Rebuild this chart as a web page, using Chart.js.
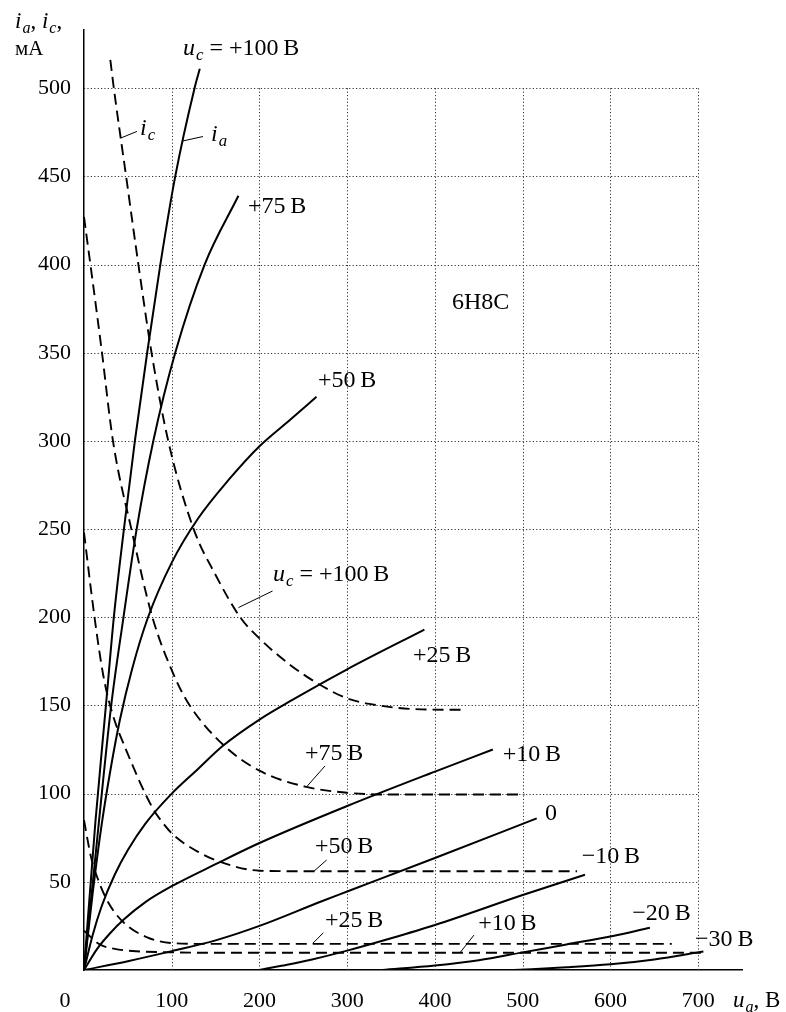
<!DOCTYPE html>
<html>
<head>
<meta charset="utf-8">
<script src="https://cdn.jsdelivr.net/npm/chart.js@4.4.0/dist/chart.umd.min.js"></script>
<style>
  body { margin: 0; background: #fff; }
  canvas { display: block; }
</style>
</head>
<body>
<canvas id="chart" width="786" height="1012"></canvas>
<script>
// axis ticks
var xTicks = [0, 100, 200, 300, 400, 500, 600, 700];
var yTicks = [50, 100, 150, 200, 250, 300, 350, 400, 450, 500];

// anode current i_a (mA) vs u_a (V), one array per grid voltage u_c
var iaP100 = [[0,0],[13,84],[25,150],[34,200],[45.5,250],[58,300],[72,350],[87,400],[104,450],[126,500],[132,511]];
var iaP75  = [[0,0],[17,84],[31,150],[45,200],[60,250],[79,300],[104,350],[137.5,400],[176,439]];
var iaP50  = [[0,0],[10,44],[20,82],[30,113],[41,142],[55,171],[73,200],[100,231],[130,256],[165,278],[200,297],[235,312],[265,325]];
var iaP25  = [[0,0],[10,20],[20,36],[35,54],[50,68],[70,83],[100,100],[130,114],[158,127],[200,142],[237,153],[300,170.5],[388,193]];
var iaP10  = [[0,0],[15,12],[30,21],[45,28.5],[70,38.5],[100,47.5],[150,60],[200,72],[300,93],[400,112.5],[466,125]];
var ia0    = [[0,0],[50,5],[100,10.7],[150,16.8],[200,25],[271,39],[300,44.5],[400,63.5],[516,86]];
var iaM10  = [[200,0],[225,2.4],[260,6],[300,11],[350,18],[400,25.5],[500,42.5],[571,54]];
var iaM20  = [[340,0],[400,2.5],[450,5.5],[500,10],[550,14.5],[600,19],[645,24]];
var iaM30  = [[490,0],[550,1.5],[600,3.2],[650,6],[706,10.5]];

// grid current i_c (mA) vs u_a (V)
var icP100 = [[30,516],[34,500],[48,450],[62,400],[77,350],[96,300],[125,250],[150,224],[178,200],[200,188],[235,173],[268,162],[300,154],[336,150],[374,148],[435,147.5]];
var icP75  = [[0,427],[10,390],[20,352],[33,300],[54,250],[78,200],[100,170],[118,152],[158,128],[200,113],[252,104],[300,100.5],[350,99.5],[502,99.5]];
var icP50  = [[0,248],[12,200],[22,167],[32,146],[47,126],[78,92],[89,84],[101,77],[130,67],[157,61],[200,56.3],[250,56],[562,56]];
var icP25  = [[0,85],[8,64],[17,50],[28,38],[45,27],[72,18.5],[100,15.3],[140,14.8],[670,14.8]];
var icP10  = [[0,22.3],[18,14.5],[35,12],[55,10.8],[100,10],[150,9.8],[706,9.8]];

// curve labels: anchor (left, baseline) in data units
var curveLabels = [
  { x: 112.8, y: 518.8, parts: [['u','i'],['c','s'],[' = +100\u2009В','r']] },
  { x: 186.9, y: 429.2, parts: [['+75\u2009В','r']] },
  { x: 63.8,  y: 473.5, parts: [['i','i'],['c','s']] },
  { x: 144.8, y: 470.1, parts: [['i','i'],['a','s']] },
  { x: 419.5, y: 374.8, parts: [['6Н8С','r']] },
  { x: 266.7, y: 330.6, parts: [['+50\u2009В','r']] },
  { x: 215.4, y: 220.6, parts: [['u','i'],['c','s'],[' = +100\u2009В','r']] },
  { x: 375,   y: 174.8, parts: [['+25\u2009В','r']] },
  { x: 251.9, y: 119.1, parts: [['+75\u2009В','r']] },
  { x: 477.3, y: 118.5, parts: [['+10\u2009В','r']] },
  { x: 525.5, y: 85.1,  parts: [['0','r']] },
  { x: 263.3, y: 66.2,  parts: [['+50\u2009В','r']] },
  { x: 567.3, y: 60.5,  parts: [['\u221210\u2009В','r']] },
  { x: 274.7, y: 24.6,  parts: [['+25\u2009В','r']] },
  { x: 449.4, y: 22.7,  parts: [['+10\u2009В','r']] },
  { x: 625,   y: 28.4,  parts: [['\u221220\u2009В','r']] },
  { x: 696.5, y: 13.6,  parts: [['\u221230\u2009В','r']] }
];

// short leader strokes from labels to curves, data units
var leaders = [
  [42.2, 471.8, 60.4, 475.5],
  [112.8, 470.1, 135.6, 472.6],
  [176.1, 205.5, 214.9, 214.9],
  [253.8, 103.9, 274.7, 115.7],
  [261.4, 55.7, 276.6, 62.4],
  [260.7, 15.1, 272.8, 21.1],
  [428.6, 9.8, 444.5, 19.8]
];

var FONT = '"Liberation Serif", "DejaVu Serif", serif';

function pts(a) {
  return a.map(function (p) { return { x: p[0], y: p[1] }; });
}

function curve(a, dashed) {
  return {
    data: pts(a),
    showLine: true,
    borderColor: '#000',
    borderWidth: dashed ? 1.9 : 2,
    borderDash: dashed ? [11, 6] : [],
    pointRadius: 0,
    pointHoverRadius: 0,
    cubicInterpolationMode: 'monotone',
    fill: false
  };
}

function drawRich(ctx, x, y, parts, size) {
  parts.forEach(function (p) {
    var txt = p[0], kind = p[1];
    var sz = kind === 's' ? size * 0.7 : size;
    var dy = kind === 's' ? size * 0.2 : 0;
    ctx.font = (kind === 'r' ? '' : 'italic ') + sz + 'px ' + FONT;
    ctx.fillText(txt, x, y + dy);
    x += ctx.measureText(txt).width + (kind === 'i' ? 1 : 0);
  });
}

var gridAndText = {
  id: 'gridAndText',
  beforeDatasetsDraw: function (chart) {
    var ctx = chart.ctx, sx = chart.scales.x, sy = chart.scales.y;
    ctx.save();
    ctx.strokeStyle = '#333';
    ctx.lineWidth = 1;
    ctx.setLineDash([1.2, 2.2]);
    xTicks.forEach(function (v) {
      if (v === 0) return;
      var px = Math.round(sx.getPixelForValue(v)) + 0.5;
      ctx.beginPath();
      ctx.moveTo(px, sy.getPixelForValue(0));
      ctx.lineTo(px, sy.getPixelForValue(500));
      ctx.stroke();
    });
    yTicks.forEach(function (v) {
      var py = Math.round(sy.getPixelForValue(v)) + 0.5;
      ctx.beginPath();
      ctx.moveTo(sx.getPixelForValue(0), py);
      ctx.lineTo(sx.getPixelForValue(700), py);
      ctx.stroke();
    });
    ctx.restore();
  },
  afterDatasetsDraw: function (chart) {
    var ctx = chart.ctx, sx = chart.scales.x, sy = chart.scales.y;
    var area = chart.chartArea;
    ctx.save();
    ctx.fillStyle = '#000';
    ctx.strokeStyle = '#000';
    ctx.lineWidth = 1;
    ctx.setLineDash([]);
    ctx.textBaseline = 'alphabetic';
    ctx.textAlign = 'left';

    leaders.forEach(function (l) {
      ctx.beginPath();
      ctx.moveTo(sx.getPixelForValue(l[0]), sy.getPixelForValue(l[1]));
      ctx.lineTo(sx.getPixelForValue(l[2]), sy.getPixelForValue(l[3]));
      ctx.stroke();
    });

    curveLabels.forEach(function (lb) {
      drawRich(ctx, sx.getPixelForValue(lb.x), sy.getPixelForValue(lb.y), lb.parts, 24);
    });

    // axis captions
    drawRich(ctx, area.left - 69, area.top - 2, [['i','i'],['a','s'],[', ','r'],['i','i'],['c','s'],[',','r']], 23);
    drawRich(ctx, area.left - 69, area.top + 25, [['мА','r']], 21);
    drawRich(ctx, area.right - 9, area.bottom + 37, [['u','i'],['a','s'],[', В','r']], 23);
    ctx.font = '22px ' + FONT;
    ctx.textAlign = 'center';
    ctx.fillText('0', area.left - 19, area.bottom + 37);
    ctx.restore();
  }
};

new Chart(document.getElementById('chart'), {
  type: 'scatter',
  data: {
    datasets: [
      curve(iaP100), curve(iaP75), curve(iaP50), curve(iaP25), curve(iaP10),
      curve(ia0), curve(iaM10), curve(iaM20), curve(iaM30),
      curve(icP100, true), curve(icP75, true), curve(icP50, true),
      curve(icP25, true), curve(icP10, true)
    ]
  },
  options: {
    responsive: false,
    animation: false,
    events: [],
    layout: { padding: { top: 30, right: 44, left: 0, bottom: 0 } },
    plugins: { legend: { display: false }, tooltip: { enabled: false } },
    scales: {
      x: {
        type: 'linear',
        min: 0,
        max: 750,
        afterBuildTicks: function (s) { s.ticks = xTicks.map(function (v) { return { value: v }; }); },
        afterFit: function (s) { s.height = 42; },
        grid: { drawOnChartArea: false, drawTicks: false },
        border: { color: '#000', width: 1.5 },
        ticks: {
          autoSkip: false,
          maxRotation: 0,
          padding: 18,
          color: '#000',
          font: { family: FONT, size: 22 },
          callback: function (v) { return v === 0 ? '' : String(v); }
        }
      },
      y: {
        type: 'linear',
        min: 0,
        max: 533,
        afterBuildTicks: function (s) { s.ticks = yTicks.map(function (v) { return { value: v }; }); },
        afterFit: function (s) { s.width = 84; },
        grid: { drawOnChartArea: false, drawTicks: false },
        border: { color: '#000', width: 1.5 },
        ticks: {
          autoSkip: false,
          padding: 13,
          color: '#000',
          font: { family: FONT, size: 22 }
        }
      }
    }
  },
  plugins: [gridAndText]
});
</script>
</body>
</html>
